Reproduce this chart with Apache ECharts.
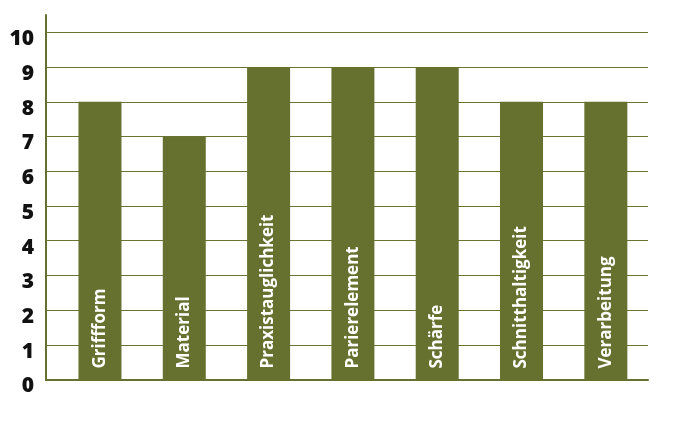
<!DOCTYPE html>
<html>
<head>
<meta charset="utf-8">
<script src="https://cdn.jsdelivr.net/npm/echarts@6/dist/echarts.min.js"></script>
<style>html,body{margin:0;padding:0;background:#fff;}#c{width:676px;height:422px;}</style>
</head>
<body>
<div id="c"></div>
<script>
const categories = ['Griffform', 'Material', 'Praxistauglichkeit', 'Parierelement', 'Schärfe', 'Schnitthaltigkeit', 'Verarbeitung'];
const values = [8, 7, 9, 9, 9, 8, 8];
const yTicks = [0, 1, 2, 3, 4, 5, 6, 7, 8, 9, 10];

const olive = '#66702f';
const chart = echarts.init(document.getElementById('c'));
chart.setOption({
  animation: false,
  grid: { left: 46, right: 28, top: 15, bottom: 42.5, containLabel: false },
  xAxis: {
    type: 'value', min: -0.64, max: 6.5,
    axisLine: { show: true, onZero: false, lineStyle: { color: olive, width: 2 } },
    axisTick: { show: false }, axisLabel: { show: false }, splitLine: { show: false }
  },
  yAxis: {
    type: 'value', min: 0, max: 10.5, interval: 1,
    axisLine: { show: true, onZero: false, lineStyle: { color: olive, width: 2 } },
    axisTick: { show: false },
    axisLabel: {
      formatter: v => yTicks.indexOf(v) >= 0 ? String(v) : '',
      color: '#111', fontFamily: 'Open Sans', fontWeight: 800, fontSize: 21,
      margin: 12, verticalAlign: 'top', lineHeight: 14
    },
    splitLine: { show: true, showMaxLine: false, showMinLine: false, lineStyle: { color: '#6b7434', width: 1 } }
  },
  series: [{
    type: 'bar',
    barWidth: 43,
    data: values.map((v, i) => [i, v]),
    itemStyle: { color: olive },
    label: {
      show: true, position: 'insideBottom', rotate: 90, align: 'left', verticalAlign: 'middle',
      distance: 11, color: '#fff', fontFamily: 'Open Sans', fontWeight: 'bold', fontSize: 17,
      formatter: p => categories[p.dataIndex]
    }
  }]
});
</script>
</body>
</html>
